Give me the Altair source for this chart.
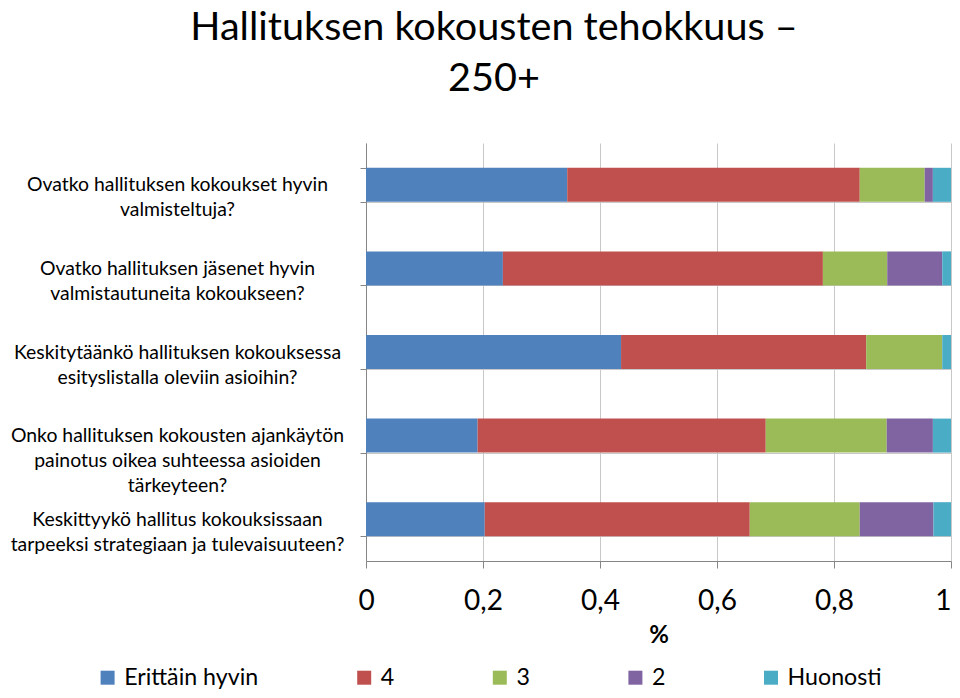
import altair as alt
import pandas as pd

questions = [
    ["Ovatko hallituksen kokoukset hyvin", "valmisteltuja?"],
    ["Ovatko hallituksen jäsenet hyvin", "valmistautuneita kokoukseen?"],
    ["Keskitytäänkö hallituksen kokouksessa", "esityslistalla oleviin asioihin?"],
    ["Onko hallituksen kokousten ajankäytön", "painotus oikea suhteessa asioiden", "tärkeyteen?"],
    ["Keskittyykö hallitus kokouksissaan", "tarpeeksi strategiaan ja tulevaisuuteen?"],
]
categories = ["Erittäin hyvin", "4", "3", "2", "Huonosti"]
colors = ["#4F81BD", "#C0504D", "#9BBB59", "#8064A2", "#4BACC6"]

erittain_hyvin = [0.344, 0.234, 0.436, 0.191, 0.203]
nelja = [0.500, 0.547, 0.419, 0.493, 0.453]
kolme = [0.111, 0.110, 0.130, 0.207, 0.188]
kaksi = [0.014, 0.094, 0.000, 0.079, 0.126]
huonosti = [0.031, 0.015, 0.015, 0.031, 0.030]

tick_values = [0, 0.2, 0.4, 0.6, 0.8, 1.0]
title_lines = ["Hallituksen kokousten tehokkuus \u2013", "250+"]

series = [erittain_hyvin, nelja, kolme, kaksi, huonosti]
q_keys = ["|".join(q) for q in questions]
rows = []
for ci, (cat, vals) in enumerate(zip(categories, series)):
    for qi, v in enumerate(vals):
        rows.append({"question": q_keys[qi], "answer": cat, "value": v, "idx": ci})
df = pd.DataFrame(rows)

FONT = "Lato"

chart = alt.Chart(df).mark_bar().encode(
    x=alt.X(
        "value:Q",
        stack="normalize",
        scale=alt.Scale(domain=[0, 1], nice=False),
        axis=alt.Axis(
            values=tick_values,
            labelExpr="replace(format(datum.value, '.1~f'), '.', ',')",
            labelAlign={"condition": {"test": "datum.value === 1", "value": "right"}, "value": "center"},
            title="%",
            titleFontSize=24,
            titleFontWeight="bold",
            titleColor="black",
            titlePadding=8,
            labelFontSize=28,
            labelColor="black",
            labelPadding=19,
            tickSize=7,
            tickColor="#868686",
            domainColor="#868686",
            gridColor="#C8C8C8",
            labelFlush=False,
        ),
    ),
    y=alt.Y(
        "question:N",
        sort=q_keys,
        scale=alt.Scale(paddingInner=0.593, paddingOuter=0.2965),
        axis=alt.Axis(
            title=None,
            labelExpr="split(datum.label, '|')",
            tickBand="extent",
            grid=True,
            gridColor="#C8C8C8",
            labelAlign="center",
            labelBaseline="middle",
            labelPadding=183,
            labelLineHeight=25,
            labelLimit=400,
            labelFontSize=19.4,
            labelColor="black",
            tickSize=6,
            tickColor="#868686",
            domainColor="#868686",
        ),
    ),
    color=alt.Color(
        "answer:N",
        scale=alt.Scale(domain=categories, range=colors),
        legend=alt.Legend(
            title=None,
            orient="none",
            legendX=-270,
            legendY=523,
            direction="horizontal",
            symbolType="square",
            symbolSize=196,
            symbolStrokeWidth=0,
            labelFontSize=23.2,
            labelColor="black",
            labelOffset=5,
            columnPadding=93.6,
            padding=0,
        ),
    ),
    order=alt.Order("idx:Q"),
).properties(
    width=585,
    height=418,
    title=alt.TitleParams(
        text=title_lines,
        fontSize=39.6,
        fontWeight="normal",
        color="black",
        anchor="middle",
        frame="group",
        dx=-164.5,
        offset=33,
        lineHeight=51,
    ),
    autosize=alt.AutoSizeParams(type="none"),
    padding={"left": 358, "top": 135, "right": 1, "bottom": 129},
).configure(font=FONT).configure_view(stroke=None)

chart.save("out.html", embed_options={"renderer": "svg", "actions": False})
